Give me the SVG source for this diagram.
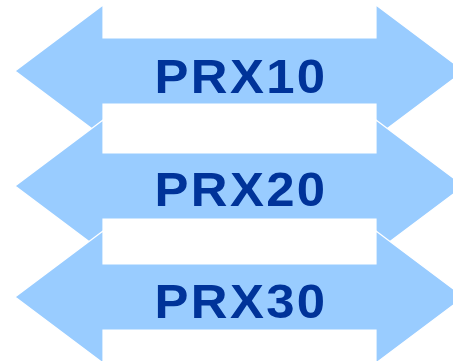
<svg xmlns="http://www.w3.org/2000/svg" width="453" height="361" viewBox="0 0 453 361">
<defs>
<style>
.arrow{fill:#99CCFF;stroke:#FFFFFF;stroke-width:1.2;stroke-linejoin:miter}
.label{font-family:"Liberation Sans",Arial,sans-serif;font-weight:bold;font-size:48px;fill:#003399;text-anchor:middle;letter-spacing:2.2px}
</style>
<polygon id="dbl" class="arrow" points="15,0 103,-66 103,-33 376,-33 376,-66 464,0 376,66 376,33 103,33 103,66"/>
</defs>
<rect width="453" height="361" fill="#FFFFFF"/>
<g id="prx10" transform="translate(0,71)">
<use href="#dbl"/>
<text class="label" transform="translate(241,22) scale(1.06,1)">PRX10</text>
</g>
<g id="prx20" transform="translate(0,186)">
<use href="#dbl"/>
<text class="label" transform="translate(241,20) scale(1.06,1)">PRX20</text>
</g>
<g id="prx30" transform="translate(0,297)">
<use href="#dbl"/>
<text class="label" transform="translate(241,21) scale(1.06,1)">PRX30</text>
</g>
<g id="connectors"/>
</svg>
